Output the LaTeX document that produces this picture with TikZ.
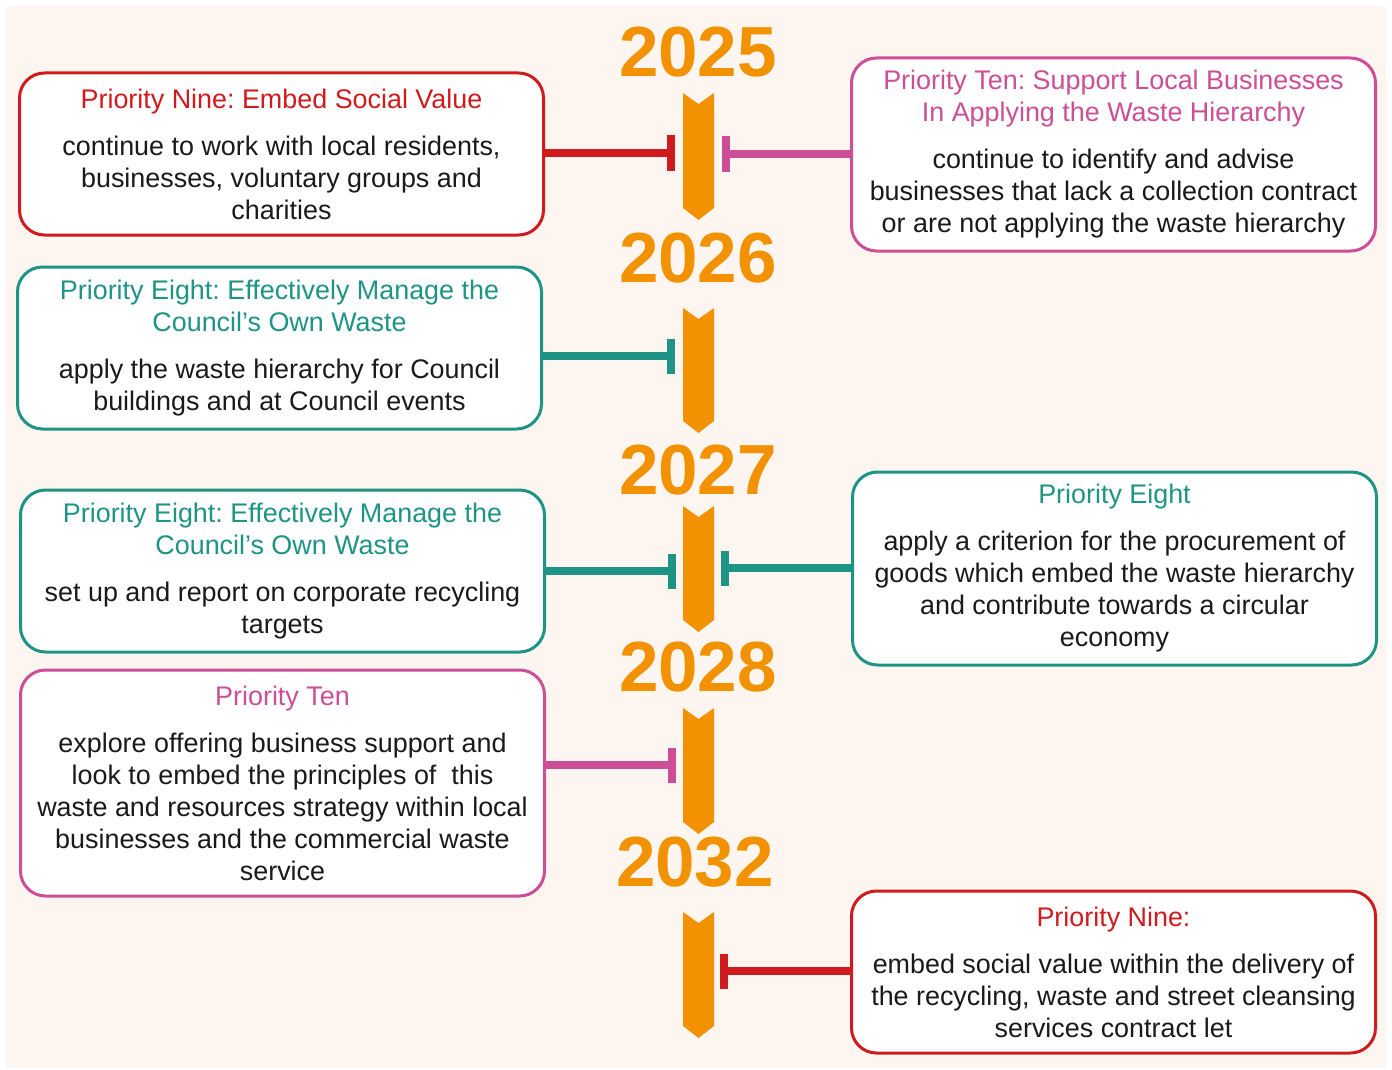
\documentclass[tikz,border=0pt]{standalone}
\usepackage{fontspec}
\setmainfont{Liberation Sans}
\usetikzlibrary{arrows.meta}
\definecolor{bgc}{RGB}{253,245,239}
\definecolor{orng}{RGB}{243,146,0}
\definecolor{pred}{RGB}{208,27,30}
\definecolor{ppink}{RGB}{204,78,150}
\definecolor{pteal}{RGB}{30,148,132}
\definecolor{ink}{RGB}{26,26,26}
\frenchspacing
\newcommand\chevronbar[2]{\fill[orng] (683,#1) -- (698.5,{#1+11}) -- (714,#1) -- (714,{#2-12}) -- (698.5,#2) -- (683,{#2-12}) -- cycle;}
\begin{document}
\begin{tikzpicture}[x=0.5pt,y=-0.5pt,
  pbox/.style={draw=#1, line width=1.5pt, rounded corners=12.5pt, fill=white,
    minimum width=262pt, align=center, inner sep=0pt, text=ink,
    font=\fontsize{13.45}{16}\selectfont\frenchspacing},
  year/.style={text=orng, font=\fontsize{35.5}{35.5}\bfseries\selectfont, inner sep=0pt},
  link/.style={draw=#1, line width=4pt, -{Bar[width=17.5pt,line width=4pt]}}
]
\useasboundingbox (0,0) rectangle (1392,1070);
\fill[bgc] (6,6) rectangle (1386,1068);

% years
\node[year] (y25) at (698,52) {2025};
\node[year] (y26) at (698,258) {2026};
\node[year] (y27) at (698,470) {2027};
\node[year] (y28) at (698,667) {2028};
\node[year] (y32) at (695,862) {2032};

% chevrons
\chevronbar{93}{220}
\chevronbar{308}{433}
\chevronbar{506}{632}
\chevronbar{708}{834}
\chevronbar{912}{1038}

% boxes
\node[pbox=pred, minimum height=81pt] (b1) at (281.5,154) {%
  \textcolor{pred}{Priority Nine: Embed Social Value}\\[7.5pt]
  continue to work with local residents,\\
  businesses, voluntary groups and\\
  charities};
\node[pbox=ppink, minimum height=96.5pt] (b2) at (1113.5,154.5) {%
  \textcolor{ppink}{Priority Ten: Support Local Businesses}\\
  \textcolor{ppink}{In Applying the Waste Hierarchy}\\[7.5pt]
  continue to identify and advise\\
  businesses that lack a collection contract\\
  or are not applying the waste hierarchy};
\node[pbox=pteal, minimum height=81pt] (b3) at (279.5,348) {%
  \textcolor{pteal}{Priority Eight: Effectively Manage the}\\
  \textcolor{pteal}{Council’s Own Waste}\\[7.5pt]
  apply the waste hierarchy for Council\\
  buildings and at Council events};
\node[pbox=pteal, minimum height=81pt] (b4) at (282.5,571) {%
  \textcolor{pteal}{Priority Eight: Effectively Manage the}\\
  \textcolor{pteal}{Council’s Own Waste}\\[7.5pt]
  set up and report on corporate recycling\\
  targets};
\node[pbox=pteal, minimum height=96.5pt] (b5) at (1114.5,568.5) {%
  \textcolor{pteal}{Priority Eight}\\[7.5pt]
  apply a criterion for the procurement of\\
  goods which embed the waste hierarchy\\
  and contribute towards a circular\\
  economy};
\node[pbox=ppink, minimum height=113pt] (b6) at (282.5,783) {%
  \textcolor{ppink}{Priority Ten}\\[7.5pt]
  explore offering business support and\\
  look to embed the principles of \ this\\
  waste and resources strategy within local\\
  businesses and the commercial waste\\
  service};
\node[pbox=pred, minimum height=81pt] (b7) at (1113.5,972) {%
  \textcolor{pred}{Priority Nine:}\\[7.5pt]
  embed social value within the delivery of\\
  the recycling, waste and street cleansing\\
  services contract let};

% connector ends
\coordinate (t1) at (675,153);
\coordinate (t2) at (722,154);
\coordinate (t3) at (675,356);
\coordinate (t4) at (676,571);
\coordinate (t5) at (721,568);
\coordinate (t6) at (676,765);
\coordinate (t7) at (720,971);

\draw[link=pred]   (t1 -| b1.east) -- (t1);
\draw[link=ppink]  (t2 -| b2.west) -- (t2);
\draw[link=pteal]  (t3 -| b3.east) -- (t3);
\draw[link=pteal]  (t4 -| b4.east) -- (t4);
\draw[link=pteal]  (t5 -| b5.west) -- (t5);
\draw[link=ppink]  (t6 -| b6.east) -- (t6);
\draw[link=pred]   (t7 -| b7.west) -- (t7);
\end{tikzpicture}
\end{document}
